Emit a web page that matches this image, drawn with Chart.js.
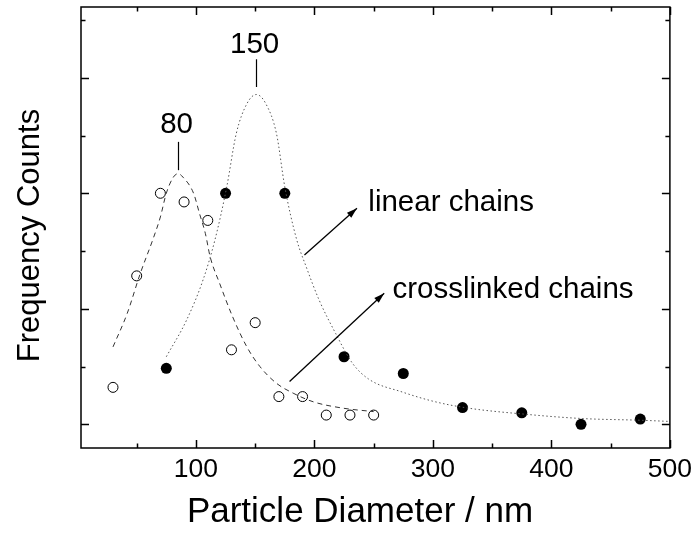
<!DOCTYPE html>
<html>
<head>
<meta charset="utf-8">
<script src="https://cdn.jsdelivr.net/npm/chart.js@4.4.0/dist/chart.umd.min.js"></script>
<style>
  html, body { margin: 0; padding: 0; background: #fff; }
  #wrap { width: 698px; height: 536px; }
</style>
</head>
<body>
<div id="wrap"><canvas id="mycanvas" width="698" height="536"></canvas></div>
<script>
// measured points
var linearX = [75, 125, 175, 225, 275, 325, 375, 425, 475];
var linearY = [0.97, 4.0, 4.0, 1.17, 0.88, 0.29, 0.2, 0.0, 0.09];
var crossX = [30, 50, 70, 90, 110, 130, 150, 170, 190, 210, 230, 250];
var crossY = [0.64, 2.57, 4.0, 3.85, 3.53, 1.29, 1.76, 0.48, 0.48, 0.16, 0.16, 0.16];

// fitted curves
var linFitX = [75, 92, 106, 116, 126, 134, 143, 151, 159, 168, 175, 185, 193, 204, 218, 232, 246, 274, 302, 330, 375, 426, 476, 500];
var linFitY = [1.17, 1.8, 2.5, 3.19, 4.11, 5.03, 5.55, 5.71, 5.55, 5.03, 4.11, 3.2, 2.73, 2.15, 1.57, 1.06, 0.78, 0.56, 0.39, 0.28, 0.18, 0.10, 0.07, 0.05];
var crossFitX = [30, 42, 53, 64, 70, 75, 81, 85, 89, 98, 103, 108, 112, 120, 131, 143, 154, 168, 182, 199, 224, 250];
var crossFitY = [1.34, 1.92, 2.61, 3.22, 3.59, 4.0, 4.28, 4.34, 4.28, 4.0, 3.65, 3.3, 2.9, 2.44, 1.86, 1.34, 1.0, 0.71, 0.54, 0.39, 0.28, 0.22];

// axis ticks
var xMajor = [100, 200, 300, 400, 500];
var xMinor = [50, 150, 250, 350, 450];
var yMajor = [0, 2, 4, 6];
var yMinor = [1, 3, 5, 7];

var xTitle = 'Particle Diameter / nm';
var yTitle = 'Frequency Counts';

var FONT = "'Liberation Sans', Arial, sans-serif";

function pts(xs, ys) {
  var out = [];
  for (var i = 0; i < xs.length; i++) out.push({x: xs[i], y: ys[i]});
  return out;
}

// annotations in data units
var peakLabels = [
  {text: '150', x: 149.5, y: 6.57, lineX: 151, y1: 6.32, y2: 5.84},
  {text: '80', x: 83.7, y: 5.18, lineX: 85, y1: 4.89, y2: 4.40}
];
var arrowLabels = [
  {text: 'linear chains', x0: 191.6, y0: 2.93, x1: 235.9, y1: 3.74, tx: 245.5, ty: 3.83},
  {text: 'crosslinked chains', x0: 179, y0: 0.74, x1: 258.9, y1: 2.27, tx: 265.9, ty: 2.32}
];

var framePlugin = {
  id: 'frame',
  afterDatasetsDraw: function (chart) {
    var ctx = chart.ctx, a = chart.chartArea;
    var xs = chart.scales.x, ys = chart.scales.y;
    ctx.save();
    ctx.strokeStyle = '#000';
    ctx.lineWidth = 1.5;
    ctx.strokeRect(a.left, a.top, a.right - a.left, a.bottom - a.top);
    function xt(v, len) {
      var p = Math.round(xs.getPixelForValue(v)) + 0.5;
      ctx.beginPath();
      ctx.moveTo(p, a.bottom); ctx.lineTo(p, a.bottom - len);
      ctx.moveTo(p, a.top); ctx.lineTo(p, a.top + len);
      ctx.stroke();
    }
    function yt(v, len) {
      var p = Math.round(ys.getPixelForValue(v)) + 0.5;
      ctx.beginPath();
      ctx.moveTo(a.left, p); ctx.lineTo(a.left + len, p);
      ctx.moveTo(a.right, p); ctx.lineTo(a.right - len, p);
      ctx.stroke();
    }
    xMajor.forEach(function (v) { xt(v, 8); });
    xMinor.forEach(function (v) { xt(v, 4.5); });
    yMajor.forEach(function (v) { yt(v, 8); });
    yMinor.forEach(function (v) { yt(v, 4.5); });

    // axis titles
    ctx.fillStyle = '#000';
    ctx.font = '35px ' + FONT;
    ctx.textAlign = 'center';
    ctx.textBaseline = 'middle';
    ctx.fillText(xTitle, 360, 512);
    ctx.save();
    ctx.font = '31px ' + FONT;
    ctx.translate(30, (a.top + a.bottom) / 2 + 8);
    ctx.rotate(-Math.PI / 2);
    ctx.fillText(yTitle, 0, 0);
    ctx.restore();

    // peak labels
    ctx.font = '29.5px ' + FONT;
    ctx.lineWidth = 1.2;
    peakLabels.forEach(function (p) {
      ctx.fillText(p.text, xs.getPixelForValue(p.x), ys.getPixelForValue(p.y));
      var lx = Math.round(xs.getPixelForValue(p.lineX)) + 0.5;
      ctx.beginPath();
      ctx.moveTo(lx, ys.getPixelForValue(p.y1));
      ctx.lineTo(lx, ys.getPixelForValue(p.y2));
      ctx.stroke();
    });

    // arrows with text
    ctx.textAlign = 'left';
    arrowLabels.forEach(function (p) {
      var x0 = xs.getPixelForValue(p.x0), y0 = ys.getPixelForValue(p.y0);
      var x1 = xs.getPixelForValue(p.x1), y1 = ys.getPixelForValue(p.y1);
      ctx.lineWidth = 1.3;
      ctx.beginPath();
      ctx.moveTo(x0, y0); ctx.lineTo(x1, y1);
      ctx.stroke();
      var ang = Math.atan2(y1 - y0, x1 - x0);
      ctx.beginPath();
      ctx.moveTo(x1, y1);
      ctx.lineTo(x1 - 11 * Math.cos(ang - 0.3), y1 - 11 * Math.sin(ang - 0.3));
      ctx.lineTo(x1 - 11 * Math.cos(ang + 0.3), y1 - 11 * Math.sin(ang + 0.3));
      ctx.closePath();
      ctx.fill();
      ctx.fillText(p.text, xs.getPixelForValue(p.tx), ys.getPixelForValue(p.ty));
    });
    ctx.restore();
  }
};

var ctx = document.getElementById('mycanvas');
var chart = new Chart(ctx, {
  type: 'scatter',
  data: {
    datasets: [
      {
        label: 'crosslinked fit',
        data: pts(crossFitX, crossFitY),
        showLine: true,
        borderColor: '#333',
        borderWidth: 1,
        borderDash: [5, 4],
        pointRadius: 0,
        cubicInterpolationMode: 'monotone',
        fill: false
      },
      {
        label: 'linear fit',
        data: pts(linFitX, linFitY),
        showLine: true,
        borderColor: '#555',
        borderWidth: 1,
        borderDash: [1.5, 2.5],
        pointRadius: 0,
        cubicInterpolationMode: 'monotone',
        fill: false
      },
      {
        label: 'crosslinked chains',
        data: pts(crossX, crossY),
        pointRadius: 5,
        pointBackgroundColor: '#fff',
        pointBorderColor: '#000',
        pointBorderWidth: 1,
        showLine: false
      },
      {
        label: 'linear chains',
        data: pts(linearX, linearY),
        pointRadius: 5.5,
        pointBackgroundColor: '#000',
        pointBorderColor: '#000',
        pointBorderWidth: 0,
        showLine: false
      }
    ]
  },
  options: {
    responsive: false,
    animation: false,
    layout: { padding: { left: 0, right: 26, top: 7, bottom: 0 } },
    plugins: { legend: { display: false }, tooltip: { enabled: false } },
    scales: {
      x: {
        type: 'linear',
        min: 3,
        max: 500,
        afterBuildTicks: function (s) { s.ticks = xMajor.map(function (v) { return {value: v}; }); },
        afterFit: function (s) { s.height = 88; },
        grid: { display: false, drawTicks: false },
        border: { display: false },
        ticks: { color: '#000', padding: 6, maxRotation: 0, font: { family: FONT, size: 26.5 } },
        title: { display: false }
      },
      y: {
        type: 'linear',
        min: -0.41,
        max: 7.225,
        afterFit: function (s) { s.width = 81; },
        grid: { display: false, drawTicks: false },
        border: { display: false },
        ticks: { display: false },
        title: { display: false }
      }
    }
  },
  plugins: [framePlugin]
});
</script>
</body>
</html>
